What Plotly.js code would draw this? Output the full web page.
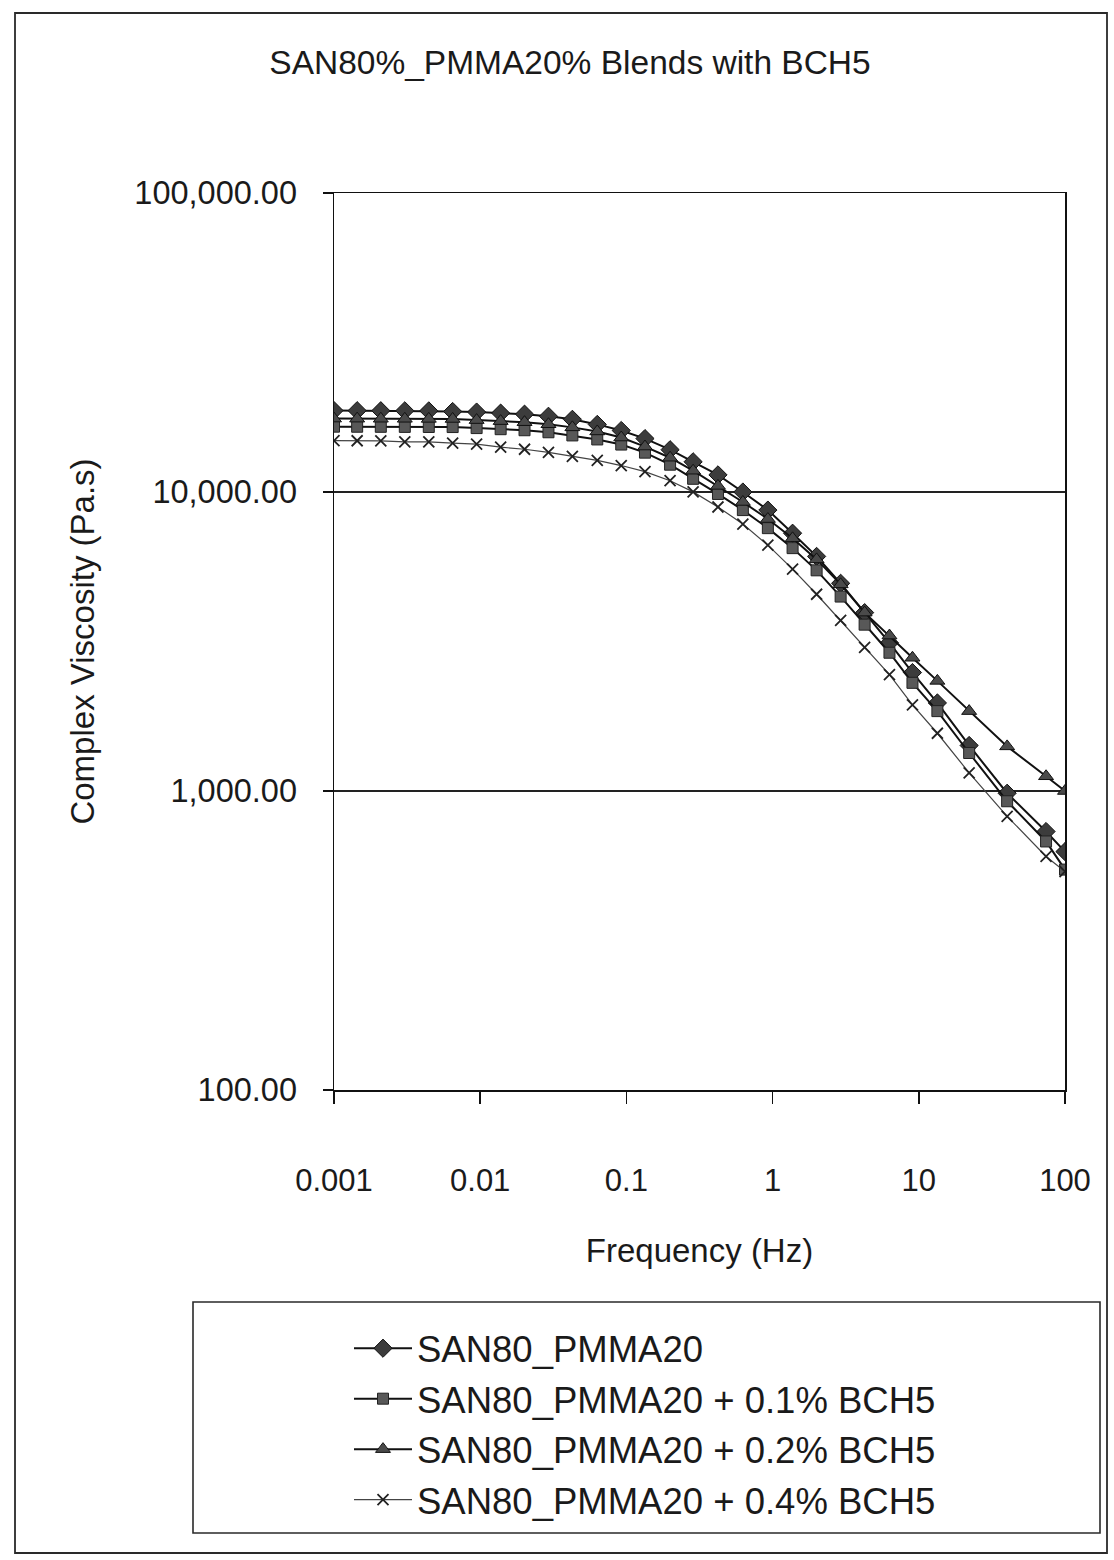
<!DOCTYPE html>
<html>
<head>
<meta charset="utf-8">
<script src="https://cdn.plot.ly/plotly-3.0.1.min.js"></script>
<style>
  html, body { margin: 0; padding: 0; background: #ffffff; }
  #chart { width: 1114px; height: 1560px; }
</style>
</head>
<body>
<div id="chart"></div>
<script>
// Oscillatory frequency sweep (Hz)
const frequency = [0.001, 0.00144, 0.00209, 0.00305, 0.00445, 0.00648, 0.00945, 0.0138, 0.0201, 0.0293,
                   0.0427, 0.0632, 0.0922, 0.134, 0.199, 0.286, 0.423, 0.626, 0.928, 1.37,
                   2.00, 2.92, 4.26, 6.30, 9.05, 13.4, 22.1, 40.2, 74.2, 100];

// Complex viscosity (Pa.s) per blend
const blend0 = [18720, 18710, 18700, 18690, 18680, 18590, 18510, 18360, 18210, 17920,
                17500, 16830, 16060, 15090, 13850, 12620, 11410, 10000, 8700, 7280,
                6090, 4950, 3950, 3130, 2490, 1970, 1420, 983, 732, 627];
const blend01 = [16540, 16530, 16520, 16510, 16500, 16490, 16360, 16220, 16090, 15840,
                 15460, 14990, 14410, 13540, 12340, 11070, 9850, 8700, 7570, 6490,
                 5470, 4470, 3600, 2900, 2300, 1850, 1340, 924, 678, 546];
const blend02 = [17600, 17590, 17580, 17570, 17560, 17550, 17400, 17260, 17120, 16850,
                 16450, 15940, 15210, 14190, 13020, 11780, 10480, 9260, 8120, 7000,
                 5950, 4910, 3950, 3310, 2790, 2335, 1850, 1410, 1120, 1000];
const blend04 = [14850, 14840, 14830, 14710, 14700, 14580, 14460, 14120, 13900, 13570,
                 13150, 12750, 12260, 11700, 10910, 10010, 8910, 7810, 6640, 5520,
                 4550, 3720, 3020, 2450, 1940, 1560, 1150, 823, 604, 538];

const seriesNames = ['SAN80_PMMA20', 'SAN80_PMMA20 + 0.1% BCH5',
                     'SAN80_PMMA20 + 0.2% BCH5', 'SAN80_PMMA20 + 0.4% BCH5'];

const chartTitle = 'SAN80%_PMMA20% Blends with BCH5';
const xTitle = 'Frequency (Hz)';
const yTitle = 'Complex Viscosity (Pa.s)';

const FONT = '"Liberation Sans", Arial, sans-serif';
const INK = '#1a1a1a';

const traces = [
  {
    x: frequency, y: blend0, name: seriesNames[0], type: 'scatter', mode: 'lines+markers',
    line: { color: '#111111', width: 2 },
    marker: { symbol: 'diamond', size: 14, color: '#3c3c3c', line: { color: '#111111', width: 1 } }
  },
  {
    x: frequency, y: blend01, name: seriesNames[1], type: 'scatter', mode: 'lines+markers',
    line: { color: '#111111', width: 2 },
    marker: { symbol: 'square', size: 11, color: '#585858', line: { color: '#222222', width: 1 } }
  },
  {
    x: frequency, y: blend02, name: seriesNames[2], type: 'scatter', mode: 'lines+markers',
    line: { color: '#111111', width: 2 },
    marker: { symbol: 'triangle-up', size: 13, color: '#4a4a4a', line: { color: '#111111', width: 1 } }
  },
  {
    x: frequency, y: blend04, name: seriesNames[3], type: 'scatter', mode: 'lines+markers',
    line: { color: '#444444', width: 1.2 },
    marker: { symbol: 'x-thin-open', size: 11, color: '#222222', line: { color: '#222222', width: 1.8 } }
  }
];

// plot-area geometry in pixels, used for the framing rectangles
const W = 1114, H = 1560;
const M = { l: 334, r: 49, t: 193, b: 470 };
const pw = W - M.l - M.r, ph = H - M.t - M.b;
const px = v => (v - M.l) / pw;
const py = v => (H - M.b - v) / ph;

const layout = {
  width: W, height: H,
  margin: M,
  paper_bgcolor: '#ffffff',
  plot_bgcolor: '#ffffff',
  font: { family: FONT, color: INK },
  showlegend: true,
  title: {
    text: chartTitle,
    font: { family: FONT, size: 33.5, color: INK },
    x: 570 / W, xanchor: 'center',
    y: 1 - 62 / H, yanchor: 'middle', yref: 'container'
  },
  xaxis: {
    type: 'log',
    range: [-3, 2],
    dtick: 1,
    tickformat: '~g',
    showgrid: false,
    zeroline: false,
    showline: true, linecolor: '#111111', linewidth: 1.5, mirror: true,
    ticks: 'outside', ticklen: 12, tickwidth: 1.5, tickcolor: '#111111',
    ticklabelstandoff: 50,
    tickfont: { family: FONT, size: 31, color: INK },
    title: { text: xTitle, font: { family: FONT, size: 33, color: INK }, standoff: 42 }
  },
  yaxis: {
    type: 'log',
    range: [2, 5],
    dtick: 1,
    tickformat: ',.2f',
    showgrid: true, gridcolor: '#222222', gridwidth: 1.3,
    zeroline: false,
    showline: true, linecolor: '#111111', linewidth: 1.5, mirror: true,
    ticks: 'outside', ticklen: 10, tickwidth: 1.5, tickcolor: '#111111',
    ticklabelstandoff: 19,
    tickfont: { family: FONT, size: 32.5, color: INK },
    title: { text: yTitle, font: { family: FONT, size: 33, color: INK }, standoff: 30 }
  },
  legend: {
    x: px(349), xanchor: 'left',
    y: py(1318), yanchor: 'top',
    bgcolor: 'rgba(0,0,0,0)',
    borderwidth: 0,
    font: { family: FONT, size: 36.5, color: INK },
    tracegroupgap: 0,
    itemwidth: 58
  },
  shapes: [
    // outer chart frame
    { type: 'rect', xref: 'paper', yref: 'paper',
      x0: px(15), x1: px(1107), y0: py(1553), y1: py(13),
      line: { color: '#2a2a2a', width: 1.8 }, fillcolor: 'rgba(0,0,0,0)' },
    // legend frame
    { type: 'rect', xref: 'paper', yref: 'paper',
      x0: px(193), x1: px(1100), y0: py(1533), y1: py(1302),
      line: { color: '#2a2a2a', width: 1.6 }, fillcolor: 'rgba(0,0,0,0)' }
  ]
};

Plotly.newPlot('chart', traces, layout, { displayModeBar: false, staticPlot: true });
</script>
</body>
</html>
